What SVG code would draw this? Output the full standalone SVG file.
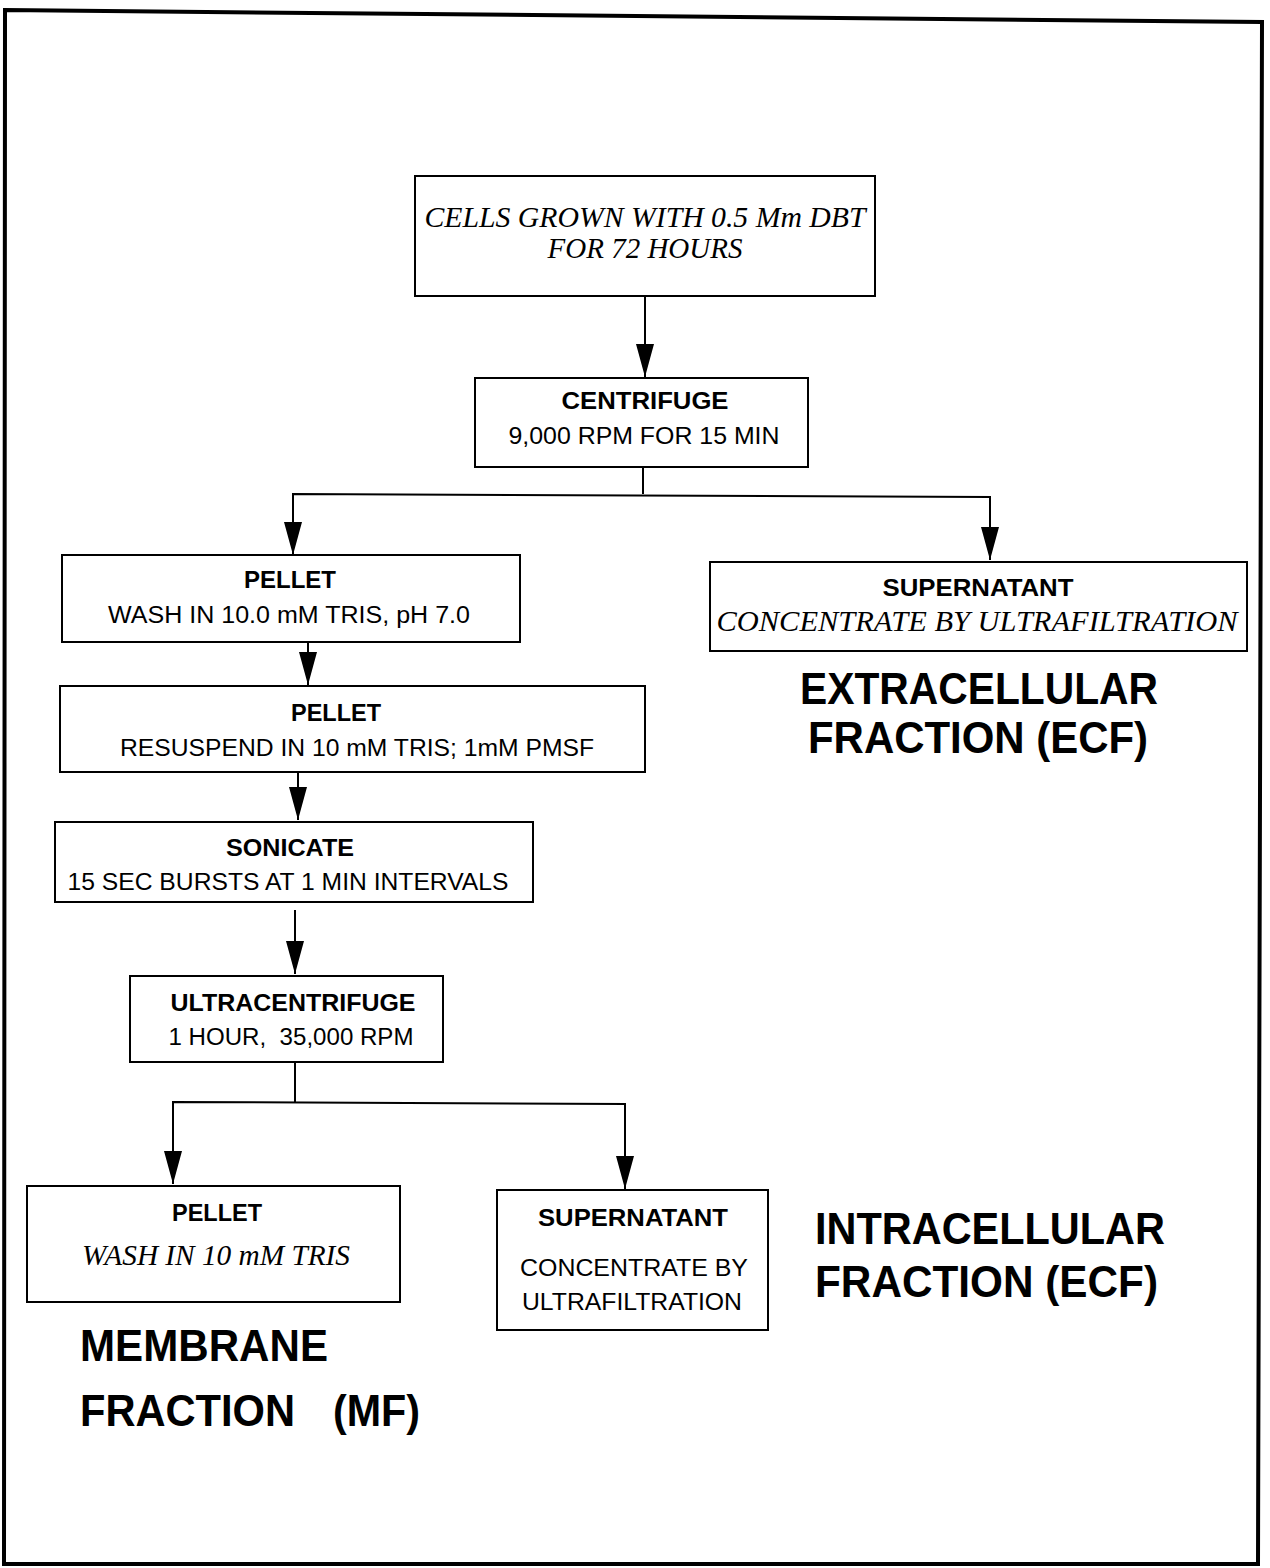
<svg xmlns="http://www.w3.org/2000/svg" width="1270" height="1568" viewBox="0 0 1270 1568">
<defs>
<style>
.box{fill:#fff;stroke:#000;stroke-width:2}
.ln{fill:none;stroke:#000;stroke-width:2}
.hd{font-family:"Liberation Sans",Arial,sans-serif;font-weight:bold;font-size:23px;fill:#000;text-anchor:middle}
.sb{font-family:"Liberation Sans",Arial,sans-serif;font-size:23px;fill:#000;text-anchor:middle}
.it{font-family:"Liberation Serif","Times New Roman",serif;font-style:italic;font-size:30px;fill:#000;text-anchor:middle}
.big{font-family:"Liberation Sans",Arial,sans-serif;font-weight:bold;font-size:44px;fill:#000}
</style>
<marker id="ah" markerUnits="userSpaceOnUse" markerWidth="34" markerHeight="20" viewBox="0 0 34 20" refX="33" refY="10" orient="auto-start-reverse">
<path d="M0,1 L33,10 L0,19 Z" fill="#000"/>
</marker>
</defs>
<rect x="0" y="0" width="1270" height="1568" fill="#fff"/>
<path d="M5,10 L1262,22 L1258,1564 L4,1564 Z" fill="none" stroke="#000" stroke-width="4"/>

<g id="connectors">
<line class="ln" x1="645" y1="297" x2="645" y2="377" marker-end="url(#ah)"/>
<polyline class="ln" points="643,467 643,494"/>
<polyline class="ln" points="293,555 293,494 990,497 990,560" marker-start="url(#ah)" marker-end="url(#ah)"/>
<line class="ln" x1="308" y1="642" x2="308" y2="685" marker-end="url(#ah)"/>
<line class="ln" x1="298" y1="772" x2="298" y2="820" marker-end="url(#ah)"/>
<line class="ln" x1="295" y1="910" x2="295" y2="974" marker-end="url(#ah)"/>
<polyline class="ln" points="295,1062 295,1102"/>
<polyline class="ln" points="173,1184 173,1102 625,1104 625,1189" marker-start="url(#ah)" marker-end="url(#ah)"/>
</g>

<g id="cells">
<rect class="box" x="415" y="176" width="460" height="120"/>
<text class="it" x="645" y="227" textLength="441" lengthAdjust="spacingAndGlyphs">CELLS GROWN WITH 0.5 Mm DBT</text>
<text class="it" x="645" y="258" textLength="195" lengthAdjust="spacingAndGlyphs">FOR 72 HOURS</text>
</g>

<g id="centrifuge">
<rect class="box" x="475" y="378" width="333" height="89"/>
<text class="hd" x="645" y="409" textLength="167" lengthAdjust="spacingAndGlyphs">CENTRIFUGE</text>
<text class="sb" x="644" y="444" textLength="271" lengthAdjust="spacingAndGlyphs">9,000 RPM FOR 15 MIN</text>
</g>

<g id="pellet1">
<rect class="box" x="62" y="555" width="458" height="87"/>
<text class="hd" x="290" y="588" textLength="92" lengthAdjust="spacingAndGlyphs">PELLET</text>
<text class="sb" x="289" y="623" textLength="362" lengthAdjust="spacingAndGlyphs">WASH IN 10.0 mM TRIS, pH 7.0</text>
</g>

<g id="supernatant1">
<rect class="box" x="710" y="562" width="537" height="89"/>
<text class="hd" x="978" y="596" textLength="191" lengthAdjust="spacingAndGlyphs">SUPERNATANT</text>
<text class="it" x="977" y="631" textLength="521" lengthAdjust="spacingAndGlyphs">CONCENTRATE BY ULTRAFILTRATION</text>
</g>

<g id="ecf-label">
<text class="big" x="800" y="704" textLength="358" lengthAdjust="spacingAndGlyphs">EXTRACELLULAR</text>
<text class="big" x="808" y="753" textLength="340" lengthAdjust="spacingAndGlyphs">FRACTION (ECF)</text>
</g>

<g id="pellet2">
<rect class="box" x="60" y="686" width="585" height="86"/>
<text class="hd" x="336" y="721" textLength="90" lengthAdjust="spacingAndGlyphs">PELLET</text>
<text class="sb" x="357" y="756" textLength="474" lengthAdjust="spacingAndGlyphs">RESUSPEND IN 10 mM TRIS; 1mM PMSF</text>
</g>

<g id="sonicate">
<rect class="box" x="55" y="822" width="478" height="80"/>
<text class="hd" x="290" y="856" textLength="128" lengthAdjust="spacingAndGlyphs">SONICATE</text>
<text class="sb" x="288" y="890" textLength="441" lengthAdjust="spacingAndGlyphs">15 SEC BURSTS AT 1 MIN INTERVALS</text>
</g>

<g id="ultracentrifuge">
<rect class="box" x="130" y="976" width="313" height="86"/>
<text class="hd" x="293" y="1011" textLength="245" lengthAdjust="spacingAndGlyphs">ULTRACENTRIFUGE</text>
<text class="sb" x="291" y="1045" textLength="245" lengthAdjust="spacingAndGlyphs" xml:space="preserve">1 HOUR,  35,000 RPM</text>
</g>

<g id="pellet3">
<rect class="box" x="27" y="1186" width="373" height="116"/>
<text class="hd" x="217" y="1221" textLength="90" lengthAdjust="spacingAndGlyphs">PELLET</text>
<text class="it" x="216" y="1265" textLength="268" lengthAdjust="spacingAndGlyphs">WASH IN 10 mM TRIS</text>
</g>

<g id="supernatant2">
<rect class="box" x="497" y="1190" width="271" height="140"/>
<text class="hd" x="633" y="1226" textLength="190" lengthAdjust="spacingAndGlyphs">SUPERNATANT</text>
<text class="sb" x="634" y="1276" textLength="228" lengthAdjust="spacingAndGlyphs">CONCENTRATE BY</text>
<text class="sb" x="632" y="1310" textLength="220" lengthAdjust="spacingAndGlyphs">ULTRAFILTRATION</text>
</g>

<g id="icf-label">
<text class="big" x="815" y="1244" textLength="350" lengthAdjust="spacingAndGlyphs">INTRACELLULAR</text>
<text class="big" x="815" y="1297" textLength="343" lengthAdjust="spacingAndGlyphs">FRACTION (ECF)</text>
</g>

<g id="mf-label">
<text class="big" x="80" y="1361" textLength="248" lengthAdjust="spacingAndGlyphs">MEMBRANE</text>
<text class="big" x="80" y="1426" textLength="215" lengthAdjust="spacingAndGlyphs">FRACTION</text>
<text class="big" x="333" y="1426" textLength="87" lengthAdjust="spacingAndGlyphs">(MF)</text>
</g>
</svg>
